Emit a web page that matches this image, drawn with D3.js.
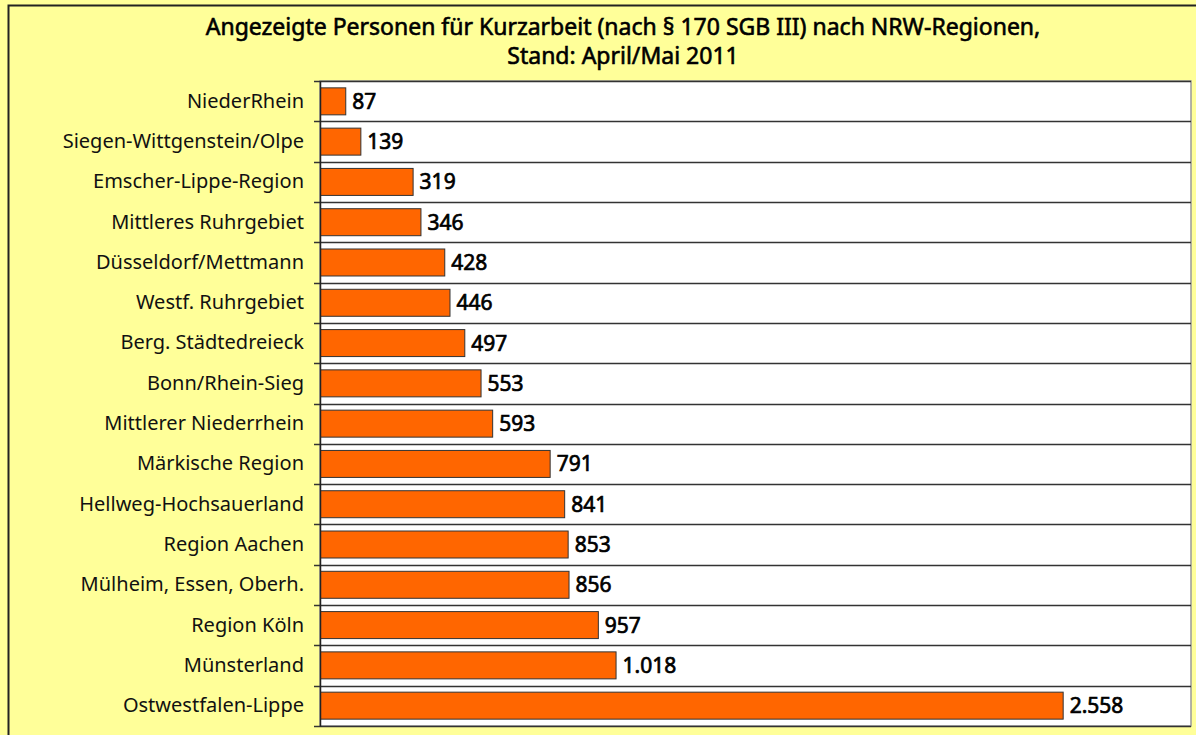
<!DOCTYPE html>
<html>
<head>
  <script src="https://d3js.org/d3.v7.min.js"></script>
  <style>
    body { margin: 0; overflow: hidden; background: #ffff99; }
    svg { display: block; font-family: "Noto Sans", sans-serif; }
  </style>
  <title>Kurzarbeit NRW</title>
</head>
<body>
  <script>
    // Data
    const regions = ["NiederRhein", "Siegen-Wittgenstein/Olpe", "Emscher-Lippe-Region",
      "Mittleres Ruhrgebiet", "Düsseldorf/Mettmann", "Westf. Ruhrgebiet",
      "Berg. Städtedreieck", "Bonn/Rhein-Sieg", "Mittlerer Niederrhein",
      "Märkische Region", "Hellweg-Hochsauerland", "Region Aachen",
      "Mülheim, Essen, Oberh.", "Region Köln", "Münsterland", "Ostwestfalen-Lippe"];
    const persons = [87, 139, 319, 346, 428, 446, 497, 553, 593, 791, 841, 853, 856, 957, 1018, 2558];
    const titleLines = ["Angezeigte Personen für Kurzarbeit (nach § 170 SGB III) nach NRW-Regionen,",
      "Stand: April/Mai 2011"];

    const W = 1196, H = 735;
    const margin = { top: 81, right: 5, bottom: 9, left: 320 };
    const width = W - margin.left - margin.right;
    const height = H - margin.top - margin.bottom;

    const de = d3.formatLocale({ decimal: ",", thousands: ".", grouping: [3], currency: ["", " €"] });
    const fmt = de.format(",d");

    const svg = d3.select("body").append("svg")
      .attr("width", W)
      .attr("height", H);

    // outer frame (cut off at right and bottom)
    svg.append("rect")
      .attr("x", 8.5).attr("y", 5.5)
      .attr("width", W + 10).attr("height", H + 10)
      .attr("fill", "#ffff99")
      .attr("stroke", "#222")
      .attr("stroke-width", 2);

    // title
    svg.append("text")
      .attr("x", 623)
      .attr("y", 35)
      .attr("text-anchor", "middle")
      .style("font-size", "23px")
      .attr("fill", "#000")
      .attr("stroke", "#000")
      .attr("stroke-width", 0.6)
      .selectAll("tspan")
      .data(titleLines)
      .enter()
      .append("tspan")
      .attr("x", 623)
      .attr("dy", function (d, i) { return i === 0 ? 0 : 29; })
      .text(function (d) { return d; });

    const g = svg.append("g")
      .attr("transform", "translate(" + margin.left + "," + margin.top + ")");

    const x = d3.scaleLinear().domain([0, 3000]).range([0, width]);
    const y = d3.scaleBand().domain(regions).range([0, height]).paddingInner(0.33).paddingOuter(0.17);
    const yGrid = d3.scaleBand().domain(regions).range([0, height]);

    // plot background
    g.append("rect")
      .attr("width", width)
      .attr("height", height)
      .attr("fill", "#fff")
      .attr("stroke", "#999")
      .attr("stroke-width", 1.5);

    // gridlines at category boundaries
    g.selectAll(".grid")
      .data(regions)
      .enter()
      .append("line")
      .attr("x1", -6)
      .attr("x2", width)
      .attr("y1", function (d) { return Math.round(yGrid(d)) + 0.5; })
      .attr("y2", function (d) { return Math.round(yGrid(d)) + 0.5; })
      .attr("stroke", "#333")
      .attr("stroke-width", 1.3);

    g.append("line")
      .attr("x1", -6).attr("x2", width)
      .attr("y1", height + 0.5).attr("y2", height + 0.5)
      .attr("stroke", "#333").attr("stroke-width", 1.3);

    // bars
    g.selectAll(".bar")
      .data(persons)
      .enter()
      .append("rect")
      .attr("class", "bar")
      .attr("x", x(0) + 0.5)
      .attr("y", function (d, i) { return y(regions[i]); })
      .attr("width", function (d) { return x(d) - x(0); })
      .attr("height", y.bandwidth())
      .attr("fill", "#ff6600")
      .attr("stroke", "#333")
      .attr("stroke-width", 1);

    // value labels
    g.selectAll(".val")
      .data(persons)
      .enter()
      .append("text")
      .attr("x", function (d) { return x(d) + 7; })
      .attr("y", function (d, i) { return y(regions[i]) + y.bandwidth() / 2; })
      .attr("dy", "0.36em")
      .style("font-size", "21px")
      .attr("fill", "#000")
      .attr("stroke", "#000")
      .attr("stroke-width", 0.7)
      .text(function (d) { return fmt(d); });

    // y axis
    const yAxis = g.append("g")
      .call(d3.axisLeft(yGrid).tickSize(0).tickPadding(16));
    yAxis.select(".domain").attr("stroke", "#222").attr("stroke-width", 1.5);
    yAxis.selectAll("text")
      .style("font-size", "20px")
      .style("font-family", "'Noto Sans', sans-serif")
      .attr("fill", "#111");
  </script>
</body>
</html>
